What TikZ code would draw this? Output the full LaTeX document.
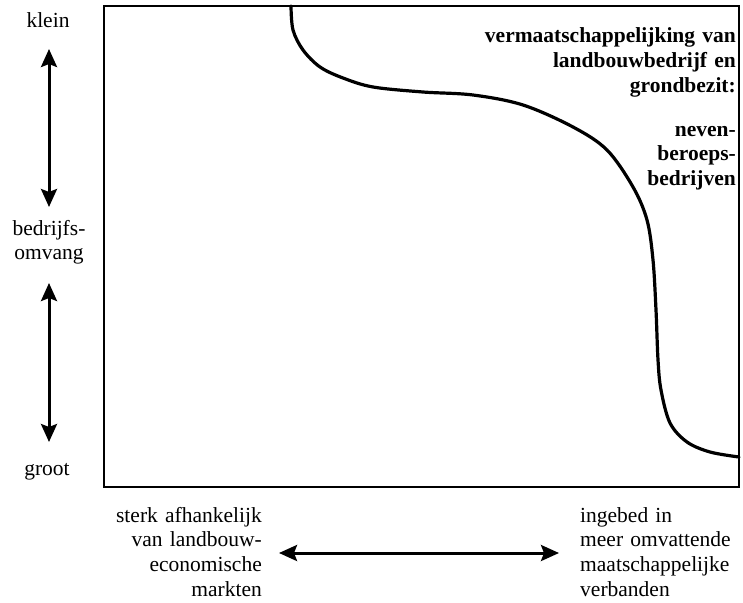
\documentclass[tikz,border=0pt]{standalone}
\usepackage{fontspec}
\setmainfont{Liberation Serif}
\usetikzlibrary{arrows.meta}
\begin{document}
\begin{tikzpicture}[x=1pt,y=-1pt,
  lbl/.style={font=\fontsize{21.5}{24.8}\selectfont, inner sep=0pt},
  bold/.style={lbl, font=\fontsize{21.5}{24.5}\selectfont\bfseries},
  dblarrow/.style={line width=3pt, {Stealth[length=18pt,width=16pt,inset=3pt]}-{Stealth[length=18pt,width=16pt,inset=3pt]}},
  frame/.style={line width=2.4pt},
  curve/.style={line width=3.2pt, line cap=round}
]
\useasboundingbox (0,0) rectangle (743,602);
% frame
\draw[frame] (104,6) rectangle (739,487);
% curve
\draw[curve] plot[smooth, tension=0.55] coordinates {
 (291,6) (293,30) (303,50) (320,67) (343,78) (373,87) (423,92) (473,95)
 (523,105) (573,127) (607,150) (633,187) (647,220) (653,260) (656,310)
 (658,360) (661,390) (670,423) (687,442) (710,452) (739,457)};
% left labels
\node[lbl, anchor=base] (klein) at (48,28) {klein};
\node[lbl, anchor=base, text width=100pt, align=center] (omvang) at (49,235) {bedrijfs-\\omvang};
\node[lbl, anchor=base] (groot) at (47,475) {groot};
\coordinate (a1) at (49,49);
\coordinate (a2) at (49,207);
\coordinate (a3) at (49,283);
\coordinate (a4) at (49,442);
\draw[dblarrow] (a1) -- (a2);
\draw[dblarrow] (a3) -- (a4);
% right labels
\node[bold, anchor=base east, text width=300pt, align=right] (vermaat) at (736,43)
  {vermaatschappelijking van\\landbouwbedrijf en\\grondbezit:};
\node[bold, anchor=base east, text width=200pt, align=right] (neven) at (736,136)
  {neven-\\beroeps-\\bedrijven};
% bottom labels
\node[lbl, anchor=base east, text width=200pt, align=right] (sterk) at (262,522)
  {sterk afhankelijk\\van landbouw-\\economische\\markten};
\node[lbl, anchor=base west, text width=200pt, align=left] (ingebed) at (580,522)
  {ingebed in\\meer omvattende\\maatschappelijke\\verbanden};
\coordinate (h1) at (279,553);
\coordinate (h2) at (559,553);
\draw[dblarrow] (h1) -- (h2);
\end{tikzpicture}
\end{document}
